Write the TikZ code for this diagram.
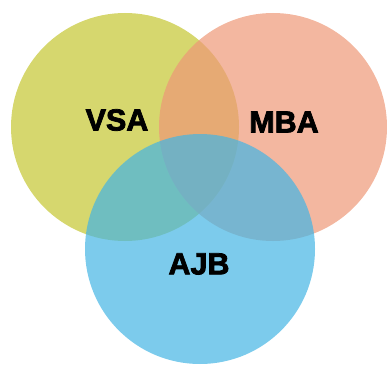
\documentclass[tikz,border=0pt]{standalone}
\usepackage{fontspec}
\setmainfont{Liberation Sans}
\newfontfamily\heavyfont[FakeBold=2.5]{Liberation Sans Bold}
\usepackage{tikz}

\definecolor{vsacol}{RGB}{196,198,48}
\definecolor{mbacol}{RGB}{238,152,119}
\definecolor{ajbcol}{RGB}{68,181,228}

\begin{document}
\begin{tikzpicture}[x=1pt,y=1pt,
  set/.style={circle, minimum size=228pt, inner sep=0pt, fill opacity=0.7},
  setname/.style={font=\heavyfont\fontsize{30.5}{30.5}\selectfont, text=black}]
\useasboundingbox (0,0) rectangle (387,-366);
%draw [help lines] grid (387,-366);
\node[set, fill=vsacol] (vsa) at (125,-127) {};
\node[set, fill=mbacol] (mba) at (273,-127) {};
\node[set, fill=ajbcol, minimum size=230pt] (ajb) at (200,-249) {};

\node[setname] (vsaname) at (117,-120) {VSA};
\node[setname] (mbaname) at (284,-122) {MBA};
\node[setname] (ajbname) at (199,-264) {AJB};

\end{tikzpicture}
\end{document}
